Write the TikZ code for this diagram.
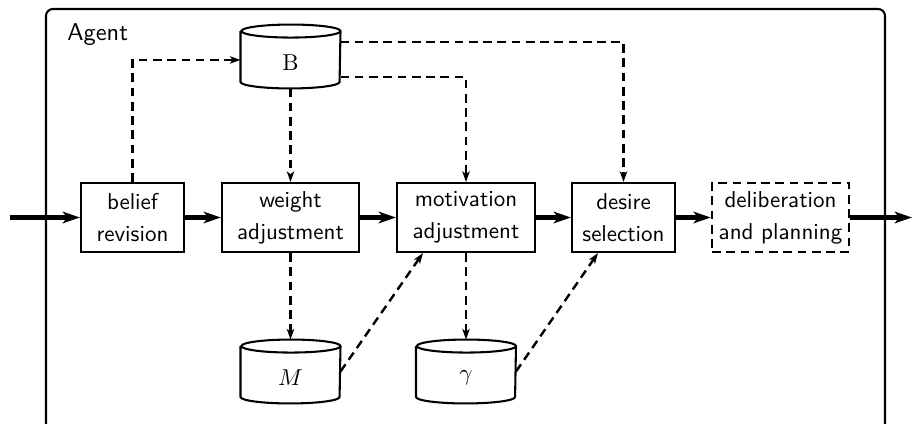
\documentclass[tikz,border=0pt]{standalone}
\usetikzlibrary{arrows.meta}
\newcommand\drawcyl[1]{\draw[cylline] ([yshift=-2.83pt]#1.north west) -- ([yshift=2.83pt]#1.south west) arc[start angle=180,end angle=360,x radius=21.55pt,y radius=2.83pt] -- ([yshift=-2.83pt]#1.north east) arc[start angle=0,end angle=360,x radius=21.55pt,y radius=2.83pt];}
\begin{document}
\begin{tikzpicture}[x=0.435pt,y=-0.435pt,
  proc/.style={draw, line width=0.9pt, minimum height=30pt, inner sep=0pt, align=center, font={\sffamily\fontsize{10}{14}\selectfont}},
  dashline/.style={line width=1.05pt, dash pattern=on 3.8pt off 2.4pt},
  darrow/.style={dashline, -{Stealth[length=4.6pt,width=3.2pt,inset=1.2pt]}},
  mainarrow/.style={line width=2.3pt, -{Stealth[length=7.5pt,width=5pt,inset=2pt]}},
  cylbox/.style={minimum width=43.1pt, minimum height=27.4pt, inner sep=0pt},
  cylline/.style={line width=0.9pt},
]
\useasboundingbox (0,0) rectangle (912,424);
% frame
\draw[line width=0.9pt, rounded corners=3pt] (46,430) -- (46,9) -- (885,9) -- (885,430);
\node[font={\sffamily\fontsize{10.6}{13}\selectfont}, anchor=west, inner sep=0pt] (agent) at (67,35) {Agent};
% process boxes
\node[proc, minimum width=44.8pt] (belief) at (132.5,217.5) {belief\\revision};
\node[proc, minimum width=59.6pt] (weight) at (290.5,217.5) {weight\\adjustment};
\node[proc, minimum width=60pt] (motivation) at (466,217.5) {motivation\\adjustment};
\node[proc, minimum width=44.8pt] (desire) at (623.5,217.5) {desire\\selection};
\node[proc, dashline, minimum width=59.6pt] (delib) at (780.5,217.5) {deliberation\\and planning};
% cylinders
\node[cylbox] (B) at (290.5,56.5) {};
\node[cylbox] (M) at (290.5,371.5) {};
\node[cylbox] (G) at (466,371.5) {};
\drawcyl{B}
\drawcyl{M}
\drawcyl{G}
\node (Blab) at ([yshift=-2.8pt]B.center) {$\mathrm{B}$};
\node (Mlab) at ([yshift=-2.8pt]M.center) {$M$};
\node (Glab) at ([yshift=-2.8pt]G.center) {$\gamma$};
% dashed connectors
\draw[darrow] (belief.north) |- ([yshift=-1.5pt]B.west);
\draw[darrow] (B.south) -- (weight.north);
\draw[darrow] ([yshift=6.3pt]B.east) -| (desire.north);
\draw[darrow] ([yshift=-8.9pt]B.east) -| (motivation.north);
\draw[darrow] (weight.south) -- (M.north);
\draw[darrow] (motivation.south) -- (G.north);
\draw[darrow] (M.east) -- ([xshift=-18.7pt]motivation.south);
\draw[darrow] (G.east) -- ([xshift=-11.1pt]desire.south);
% main flow
\coordinate (in) at (10,217.5);
\coordinate (out) at (912,217.5);
\draw[mainarrow] (in) -- (belief.west);
\draw[mainarrow] (belief.east) -- (weight.west);
\draw[mainarrow] (weight.east) -- (motivation.west);
\draw[mainarrow] (motivation.east) -- (desire.west);
\draw[mainarrow] (desire.east) -- (delib.west);
\draw[mainarrow] (delib.east) -- (out);
\end{tikzpicture}
\end{document}
